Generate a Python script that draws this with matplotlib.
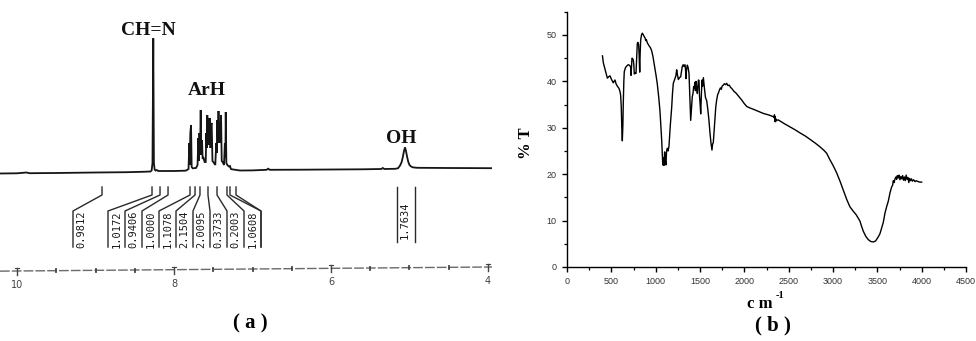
import matplotlib
matplotlib.use("Agg")
import matplotlib.pyplot as plt
from matplotlib.ticker import MultipleLocator

# ---------------- (a) 1H NMR spectrum ----------------
nmr_ppm = [
    10.22, 10.0, 9.88, 9.84, 9.5, 9.0, 8.6, 8.40, 8.30,
    8.285, 8.274, 8.264, 8.256, 8.247, 8.235, 8.22, 8.20, 8.0, 7.86,
    7.845, 7.815, 7.805, 7.800, 7.792, 7.783, 7.775, 7.762,
    7.720, 7.700, 7.690, 7.683, 7.676, 7.668, 7.660, 7.652, 7.643, 7.635,
    7.627, 7.610, 7.596, 7.588, 7.582, 7.576, 7.570, 7.565, 7.560, 7.554,
    7.548, 7.541, 7.535, 7.528, 7.520, 7.510, 7.499, 7.474, 7.462, 7.455,
    7.448, 7.440, 7.433, 7.427, 7.420, 7.413, 7.401, 7.392, 7.380, 7.363,
    7.352, 7.345, 7.341, 7.333, 7.321, 7.300, 7.287, 7.275, 7.261, 7.16,
    7.0, 6.82, 6.80, 6.78, 6.4, 6.0, 5.6, 5.36, 5.34, 5.32, 5.18,
    5.146, 5.12, 5.10, 5.085, 5.07, 5.057, 5.045, 5.03, 5.015, 5.0,
    4.98, 4.955, 4.9, 4.5, 4.2, 3.95,
]
nmr_signal = [
    -0.5, -0.3, 0.5, -0.2, 0.0, 0.5, 0.8, 1.2, 1.5,
    2.5, 10, 134.7, 10, 3.5, 2.5, 3.0, 2.0, 2.0, 2.3,
    2.5, 4, 30, 8, 40, 48, 6, 4.7,
    5, 8, 35, 12, 40, 20, 63, 18, 33, 14,
    16, 11, 11, 40, 25, 58, 30, 52, 28, 55,
    30, 55, 25, 48, 50, 12, 11, 8, 30, 20,
    53, 30, 62, 35, 50, 30, 58, 12, 11, 8,
    30, 15, 61, 10, 8, 6.5, 7, 4, 3.7, 2.5,
    2.6, 3.2, 4.3, 3.2, 3.3, 3.5, 3.7, 4.0, 5.0, 4.0, 4.2,
    4.8, 7.5, 11, 16, 22, 25.7, 22, 16, 11, 8,
    6.5, 5.6, 5.2, 5.0, 4.9, 4.8,
]
peak_names = ["CH=N", "ArH", "OH"]
integral_marks_ppm = [8.917, 8.280, 8.178, 8.076, 7.796, 7.732,
                      7.669, 7.567, 7.452, 7.325, 7.287, 7.210]
integral_values = ["0.9812", "1.0172", "0.9406", "1.0000", "1.1078",
                   "2.1504", "2.0095", "0.3733", "0.2003", "1.0608"]
oh_bounds_ppm = [5.163, 4.930]
oh_integral = "1.7634"
ppm_labels = [10, 8, 6, 4]

# ---------------- (b) IR spectrum ----------------
ir_wavenumber = [
    400, 410, 430, 455, 470, 485, 500, 522, 541, 555, 567, 586, 598, 605,
    612, 618, 624, 630, 635, 641, 646, 660, 673, 690, 703, 712, 718, 722,
    727, 733, 740, 748, 754, 759, 768, 778, 784, 793, 800, 808, 813, 820,
    825, 831, 840, 849, 862, 872, 880, 888, 895, 906, 915, 928, 940, 955,
    970, 992, 1005, 1018, 1035, 1049, 1060, 1068, 1075, 1080, 1088, 1094,
    1101, 1108, 1116, 1123, 1131, 1140, 1150, 1165, 1181, 1190, 1199, 1210,
    1218, 1228, 1237, 1245, 1256, 1268, 1282, 1290, 1300, 1310, 1318, 1331,
    1337, 1342, 1348, 1357, 1366, 1376, 1385, 1395, 1403, 1413, 1422, 1428,
    1436, 1442, 1448, 1455, 1462, 1470, 1476, 1482, 1489, 1494, 1500, 1508,
    1515, 1523, 1530, 1538, 1545, 1553, 1562, 1575, 1588, 1601, 1612, 1624,
    1635, 1642, 1650, 1660, 1669, 1678, 1688, 1700, 1710, 1718, 1730, 1740,
    1750, 1763, 1775, 1790, 1801, 1815, 1830, 1845, 1857, 1870, 1885, 1900,
    1914, 1940, 1970, 2000, 2027, 2060, 2101, 2150, 2214, 2270, 2327, 2335,
    2340, 2344, 2348, 2352, 2358, 2365, 2383, 2450, 2515, 2570, 2628, 2690,
    2741, 2800, 2853, 2900, 2929, 2960, 3003, 3041, 3079, 3116, 3154, 3190,
    3229, 3260, 3285, 3304, 3320, 3342, 3370, 3398, 3425, 3455, 3480, 3511,
    3530, 3550, 3567, 3586, 3605, 3624, 3643, 3662, 3672, 3680, 3690, 3699,
    3710, 3718, 3725, 3736, 3745, 3755, 3765, 3775, 3785, 3795, 3805, 3815,
    3825, 3835, 3845, 3855, 3865, 3875, 3885, 3895, 3910, 3925, 3940, 3960,
    3980, 4000,
]
ir_transmittance = [
    45.5, 44.0, 42.5, 40.7, 41.0, 41.2, 40.5, 39.7, 40.3, 39.4, 39.0, 38.5, 37.8, 37.0,
    34.5, 30.0, 27.2, 30.5, 35.5, 40.0, 42.1, 43.0, 43.3, 43.6, 43.5, 43.3, 43.0, 41.3,
    43.0, 45.0, 44.9, 44.6, 43.5, 41.6, 41.8, 41.7, 44.5, 48.2, 48.4, 47.9, 46.0, 42.0,
    46.0, 48.9, 50.0, 50.4, 50.0, 49.6, 49.4, 48.8, 49.0, 48.3, 48.0, 47.6, 47.3, 46.6,
    45.3, 42.8, 41.2, 39.5, 36.5, 33.5, 30.0, 27.3, 24.0, 22.0, 23.5, 21.9,
    24.8, 23.0, 22.0, 25.0, 25.6, 25.0, 26.0, 30.5, 34.5, 37.5, 39.6, 40.2,
    40.7, 41.2, 42.5, 41.5, 40.4, 40.8, 41.0, 42.0, 43.2, 43.6, 43.2, 43.6,
    42.5, 40.6, 42.5, 43.5, 43.0, 41.7, 37.0, 31.6, 34.0, 36.7, 37.5, 38.9,
    38.5, 39.8, 38.0, 40.0, 38.6, 37.4, 39.0, 40.3, 40.2, 37.0, 35.5, 33.0,
    37.0, 40.3, 39.0, 40.8, 39.4, 38.0, 36.5, 35.9, 34.0, 31.6, 29.0, 26.7,
    25.2, 26.5, 26.8, 29.5, 31.7, 34.5, 36.0, 37.2, 37.6, 38.1, 38.6, 38.3,
    39.0, 39.2, 39.5, 39.3, 39.6, 39.1, 39.2, 38.7, 38.5, 38.2, 37.8, 37.6,
    37.3, 36.7, 36.0, 35.2, 34.6, 34.3, 34.0, 33.6, 33.1, 32.8, 32.4, 32.2,
    32.8, 31.4, 32.4, 31.3, 31.9, 31.6, 31.7, 30.9, 30.2, 29.6, 28.9, 28.2,
    27.5, 26.7, 25.9, 25.1, 24.5, 23.3, 21.8, 20.3, 18.5, 16.6, 14.6, 13.0,
    12.0, 11.3, 10.5, 9.9, 8.9, 7.7, 6.6, 5.9, 5.5, 5.4, 5.6, 6.5,
    7.2, 8.5, 9.6, 11.6, 13.0, 14.2, 16.0, 17.3, 17.6, 18.6, 18.2, 19.0,
    19.4, 18.9, 19.7, 19.2, 19.8, 18.8, 19.5, 19.0, 19.7, 18.7, 19.4, 18.6,
    19.8, 18.9, 19.3, 18.2, 19.1, 18.6, 19.0, 18.5, 18.8, 18.4, 18.6, 18.4,
    18.3, 18.3,
]

W, H = 976, 341
fig = plt.figure(figsize=(W / 100, H / 100), dpi=100)

serif_bold = dict(family="Liberation Serif", weight="bold")

# ---- panel (a): drawn in ppm horizontally, pixel-like units vertically ----
PX_PER_PPM = 78.5
X10 = 17          # horizontal position of the 10 ppm mark
BASE_ROW = 173    # row of the spectrum baseline


def ppm_at(px):
    return 10 - (px - X10) / PX_PER_PPM


def yv(row):
    return BASE_ROW - row


A_RIGHT = 492
axA = fig.add_axes([0, 0, A_RIGHT / W, 1])
axA.set_xlim(ppm_at(0), ppm_at(A_RIGHT))
axA.set_ylim(yv(H), yv(0))
axA.axis("off")

axA.plot(nmr_ppm, nmr_signal, color="#151515", lw=1.3, solid_joinstyle="miter")

# peak assignments
axA.text(ppm_at(148), yv(35), peak_names[0], ha="center", va="baseline",
         fontsize=14, color="#111", **serif_bold)
axA.text(ppm_at(207), yv(95), peak_names[1], ha="center", va="baseline",
         fontsize=14, color="#111", **serif_bold)
axA.text(ppm_at(401), yv(143), peak_names[2], ha="center", va="baseline",
         fontsize=14, color="#111", **serif_bold)

# integration connectors and boxed values
slot_edges_px = [73, 108, 125, 142, 159, 176, 193, 210, 227, 244, 261]
conn_targets = slot_edges_px + [None]
edge_lines = [73, 108, 125, 142, 159, 176, 193, 210, 227, 244, 261]
for i, tick in enumerate(integral_marks_ppm):
    target = ppm_at(edge_lines[i]) if i < len(edge_lines) else ppm_at(261)
    axA.plot([tick, tick, target, target],
             [yv(187), yv(195), yv(211), yv(247)],
             color="#2a2a2a", lw=1.0)
for i, val in enumerate(integral_values):
    xc = ppm_at(slot_edges_px[i] + 8.5)
    axA.text(xc, yv(229), val, rotation=90, ha="center", va="center",
             fontsize=7.5, family="DejaVu Sans Mono", color="#1a1a1a")

for b in oh_bounds_ppm:
    axA.plot([b, b], [yv(187), yv(242)], color="#2a2a2a", lw=1.0)
axA.text(sum(oh_bounds_ppm) / 2 + 0.01, yv(220), oh_integral, rotation=90,
         ha="center", va="center", fontsize=7.5, family="DejaVu Sans Mono",
         color="#1a1a1a")

# chemical shift scale
def axis_row(ppm):
    # scale line runs slightly uphill toward the right
    return 271 + (10 - ppm) / 6.0 * (267 - 271)


x0, x1 = ppm_at(0), ppm_at(A_RIGHT)
axA.plot([x0, x1], [yv(axis_row(x0)), yv(axis_row(x1))],
         color="#6a6a6a", lw=1.0, dashes=(7, 1.5))
p = 10.0
while p >= 4.0 - 1e-9:
    r = axis_row(p)
    if abs(p - round(p)) < 1e-9 and int(round(p)) in ppm_labels:
        axA.plot([p, p], [yv(r - 3), yv(r + 4)], color="#444", lw=1.0)
        axA.plot([p - 0.03, p + 0.03], [yv(r - 3), yv(r - 3)], color="#444", lw=0.8)
    else:
        axA.plot([p, p], [yv(r - 1.5), yv(r + 1.5)], color="#444", lw=1.3)
    p -= 0.5
for v in ppm_labels:
    axA.text(v, yv(axis_row(v) + 14), str(v), ha="center", va="center",
             fontsize=7, color="#444", family="DejaVu Sans")

# ---- panel (b): IR spectrum ----
B_LEFT, B_RIGHT, B_BOTTOM, B_TOP = 567, 966, 267, 11.8
axB = fig.add_axes([B_LEFT / W, (H - B_BOTTOM) / H,
                    (B_RIGHT - B_LEFT) / W, (B_BOTTOM - B_TOP) / H])
axB.plot(ir_wavenumber, ir_transmittance, color="black", lw=1.0)
axB.set_xlim(0, 4500)
axB.set_ylim(0, 55)
for s in ("top", "right"):
    axB.spines[s].set_visible(False)
for s in ("left", "bottom"):
    axB.spines[s].set_linewidth(1.0)
axB.xaxis.set_major_locator(MultipleLocator(500))
axB.xaxis.set_minor_locator(MultipleLocator(250))
axB.yaxis.set_major_locator(MultipleLocator(10))
axB.yaxis.set_minor_locator(MultipleLocator(5))
axB.tick_params(which="major", direction="out", length=3.5, width=1.0,
                labelsize=6.5, labelcolor="#333", pad=4)
axB.tick_params(which="minor", direction="out", length=2.2, width=0.9)
for lab in axB.get_xticklabels() + axB.get_yticklabels():
    lab.set_family("Liberation Sans")

fig.text(526 / W, 1 - 143 / H, "% T", rotation=90, ha="center", va="center",
         fontsize=12, **serif_bold)
fig.text(760 / W, 1 - 304 / H, "c m", ha="center", va="center",
         fontsize=12, **serif_bold)
fig.text(780 / W, 1 - 296 / H, "-1", ha="center", va="center",
         fontsize=7.5, **serif_bold)

# panel captions
fig.text(250 / W, 1 - 323 / H, "( a )", ha="center", va="center",
         fontsize=15, **serif_bold)
fig.text(773 / W, 1 - 325 / H, "( b )", ha="center", va="center",
         fontsize=15, **serif_bold)

fig.savefig("out.png", dpi=100)
